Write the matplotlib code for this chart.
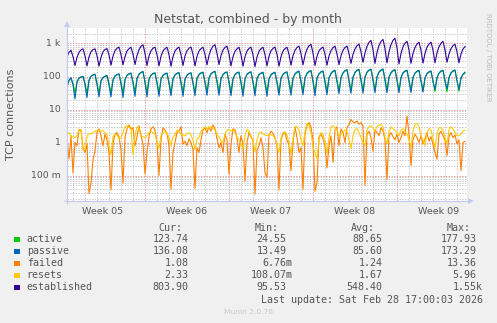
import numpy as np
import matplotlib
matplotlib.use("Agg")
import matplotlib.pyplot as plt
import matplotlib.dates as mdates
from matplotlib.patches import Rectangle, Polygon
from matplotlib.transforms import blended_transform_factory

# Samples every 4 hours, Mon 26 Jan 2026 12:00 -> Sat 28 Feb 2026 16:00.
# Rows: one day each at 00, 04, 08, 12, 16, 20 h (first row starts at 12 h).
start_time = "2026-01-26T12:00"
step_hours = 4

active = [
    50, 75, 90,
    60, 32, 70, 88, 95, 100,
    62, 31, 78, 100, 110, 116,
    62, 32, 75, 92, 100, 105,
    60, 33, 80, 102, 112, 118,
    64, 32, 82, 106, 118, 124,
    68, 34, 88, 115, 130, 138,
    70, 33, 85, 108, 120, 126,
    66, 33, 84, 108, 118, 124,
    66, 34, 86, 110, 122, 128,
    68, 34, 84, 108, 120, 126,
    66, 34, 88, 112, 125, 132,
    70, 35, 90, 118, 132, 140,
    72, 36, 86, 112, 128, 134,
    70, 35, 86, 112, 126, 132,
    68, 34, 86, 114, 128, 135,
    70, 35, 88, 112, 124, 130,
    68, 34, 86, 110, 124, 130,
    68, 35, 88, 114, 128, 134,
    70, 36, 90, 118, 132, 140,
    72, 36, 92, 122, 138, 146,
    74, 35, 90, 118, 134, 142,
    72, 36, 92, 122, 140, 148,
    74, 37, 94, 126, 146, 155,
    78, 38, 96, 130, 150, 160,
    80, 38, 98, 132, 152, 162,
    82, 38, 98, 134, 152, 162,
    82, 38, 96, 128, 146, 156,
    80, 37, 94, 126, 142, 150,
    78, 37, 94, 124, 140, 148,
    76, 36, 92, 120, 134, 142,
    74, 35, 92, 124, 142, 150,
    76, 34, 94, 126, 144, 152,
    78, 36, 92, 114, 123.74,
]

passive = [
    48, 78, 92,
    56, 21, 68, 90, 98, 102,
    58, 23, 76, 102, 112, 118,
    58, 24, 72, 94, 102, 108,
    56, 24, 78, 104, 115, 121,
    60, 23, 80, 110, 122, 128,
    64, 25, 86, 118, 134, 142,
    66, 24, 82, 110, 124, 130,
    62, 25, 82, 110, 122, 128,
    62, 26, 84, 112, 126, 132,
    64, 25, 82, 110, 124, 130,
    62, 26, 86, 116, 130, 136,
    66, 27, 88, 122, 136, 145,
    68, 27, 84, 116, 132, 138,
    66, 26, 84, 116, 130, 137,
    64, 25, 84, 118, 132, 140,
    66, 26, 86, 116, 128, 135,
    64, 25, 84, 114, 128, 135,
    64, 27, 86, 118, 132, 139,
    66, 27, 88, 122, 138, 146,
    68, 28, 90, 126, 144, 152,
    70, 26, 88, 122, 140, 148,
    68, 28, 90, 126, 146, 154,
    70, 30, 92, 130, 152, 162,
    74, 31, 94, 134, 156, 166,
    76, 31, 96, 136, 158, 168,
    78, 32, 96, 138, 158, 170,
    78, 32, 94, 132, 152, 162,
    76, 32, 92, 130, 148, 156,
    74, 33, 92, 128, 146, 154,
    72, 34, 90, 124, 140, 148,
    70, 40, 90, 128, 148, 156,
    72, 42, 92, 130, 150, 158,
    74, 40, 90, 118, 136.08,
]

failed = [
    1.3, 0.32, 1.6,
    0.12, 1.0, 0.8, 2.5, 2.3, 0.7,
    0.5, 0.9, 0.028, 0.06, 0.3, 0.55,
    2.0, 2.6, 1.6, 0.8, 1.8, 1.2,
    0.5, 0.037, 0.9, 1.8, 2.0, 1.5,
    0.6, 0.06, 1.4, 2.6, 3.4, 2.5,
    2.8, 0.8, 1.5, 3.2, 1.6, 0.9,
    0.11, 0.5, 1.5, 2.6, 3.0, 2.4,
    1.0, 0.1, 1.2, 2.8, 2.4, 1.9,
    0.8, 0.038, 0.5, 1.0, 2.0, 2.2,
    3.0, 0.9, 1.1, 0.8, 1.3, 1.0,
    0.6, 0.04, 0.7, 0.5, 1.2, 2.4,
    2.8, 2.0, 3.0, 2.2, 3.4, 2.6,
    1.3, 0.7, 1.0, 0.5, 1.8, 1.2,
    0.11, 0.9, 2.6, 2.4, 1.4, 0.5,
    1.6, 0.9, 0.066, 1.0, 2.0, 1.5,
    1.2, 0.027, 0.6, 0.8, 1.4, 0.7,
    0.12, 0.087, 1.7, 2.2, 1.9, 1.4,
    0.8, 0.037, 1.2, 1.8, 2.0, 1.1,
    0.9, 0.14, 1.0, 3.0, 1.4, 0.5,
    0.7, 0.038, 1.8, 3.3, 4.0, 3.0,
    1.2, 0.033, 0.06, 1.5, 1.8, 1.3,
    0.8, 0.17, 0.8, 1.6, 0.25, 2.5,
    3.0, 0.8, 2.6, 2.0, 1.0, 2.8,
    3.5, 5.0, 4.2, 4.0, 4.5, 3.6,
    4.0, 3.2, 0.05, 1.8, 2.2, 1.4,
    0.55, 2.4, 2.0, 1.6, 2.8, 2.2,
    1.2, 0.077, 1.6, 2.0, 1.5, 1.2,
    1.8, 1.0, 1.4, 2.2, 1.6, 6.3,
    1.8, 0.2, 1.2, 1.8, 1.4, 1.0,
    1.6, 0.9, 1.3, 2.0, 1.1, 1.5,
    0.9, 0.5, 0.31, 1.8, 2.2, 1.6,
    1.2, 0.4, 1.5, 2.0, 1.4, 1.7,
    0.9, 1.2, 0.14, 1.0, 1.08,
]

resets = [
    1.7, 2.0, 1.6,
    1.5, 1.4, 1.6, 2.4, 2.5, 0.6,
    0.6, 1.5, 1.9, 1.8, 2.0, 2.2,
    2.3, 2.4, 2.2, 2.3, 2.0, 1.8,
    0.8, 0.42, 1.5, 1.8, 1.7, 1.3,
    1.3, 2.0, 3.0, 3.2, 2.8, 3.0,
    0.42, 1.6, 3.0, 2.6, 1.6, 1.5,
    1.4, 1.6, 2.0, 2.2, 2.0, 1.8,
    1.0, 0.65, 1.6, 2.0, 2.1, 1.9,
    1.4, 0.8, 1.5, 1.7, 2.4, 2.1,
    1.8, 1.7, 1.6, 1.8, 2.0, 1.7,
    1.2, 0.6, 1.3, 1.4, 2.2, 2.6,
    3.0, 2.6, 2.8, 3.0, 2.6, 2.4,
    1.7, 1.5, 1.1, 1.0, 1.8, 2.4,
    2.5, 2.2, 2.4, 2.0, 1.5, 1.2,
    0.9, 0.65, 1.6, 2.5, 2.2, 1.6,
    1.2, 0.52, 1.2, 1.9, 2.1, 1.8,
    1.7, 1.6, 1.8, 1.7, 1.6, 1.4,
    0.8, 0.5, 1.4, 2.0, 2.1, 1.7,
    1.0, 0.45, 1.3, 3.0, 3.0, 2.4,
    1.2, 0.8, 2.2, 3.8, 3.2, 2.0,
    0.7, 0.5, 0.32, 1.2, 2.0, 1.8,
    1.0, 0.45, 1.4, 3.0, 3.2, 2.8,
    2.4, 1.6, 1.8, 2.0, 2.4, 2.2,
    1.2, 0.65, 1.6, 2.5, 2.6, 2.0,
    1.4, 1.0, 0.8, 2.4, 3.0, 3.2,
    2.8, 2.2, 3.0, 3.4, 3.5, 3.0,
    1.4, 0.9, 2.2, 3.0, 2.6, 2.4,
    2.0, 1.6, 2.4, 2.6, 2.2, 1.8,
    1.2, 0.7, 2.2, 3.6, 3.7, 3.0,
    1.6, 1.2, 0.8, 2.0, 2.6, 2.4,
    1.3, 0.7, 1.8, 2.8, 2.8, 2.4,
    1.4, 0.9, 2.4, 3.0, 2.6, 2.0,
    1.6, 1.6, 1.8, 2.2, 2.33,
]

established = [
    400, 540, 620,
    400, 215, 380, 540, 640, 690,
    420, 210, 390, 560, 650, 690,
    430, 205, 380, 560, 660, 700,
    450, 220, 420, 600, 720, 775,
    460, 225, 400, 590, 700, 770,
    480, 230, 430, 650, 820, 920,
    500, 215, 420, 600, 720, 775,
    460, 210, 410, 590, 700, 770,
    460, 205, 400, 590, 710, 775,
    460, 215, 420, 600, 720, 780,
    470, 210, 410, 590, 700, 770,
    470, 225, 440, 660, 830, 920,
    500, 230, 430, 630, 760, 830,
    480, 210, 400, 580, 690, 770,
    460, 205, 400, 590, 710, 775,
    460, 200, 390, 580, 700, 770,
    460, 210, 410, 600, 710, 780,
    470, 205, 400, 590, 700, 770,
    470, 220, 430, 620, 760, 830,
    490, 225, 440, 680, 850, 940,
    510, 215, 410, 600, 710, 780,
    470, 220, 420, 610, 750, 830,
    480, 230, 430, 620, 760, 830,
    490, 250, 470, 680, 860, 960,
    560, 270, 520, 820, 1080, 1240,
    650, 250, 540, 870, 1150, 1330,
    700, 260, 560, 930, 1250, 1440,
    740, 240, 500, 800, 1020, 1170,
    640, 250, 500, 760, 960, 1100,
    620, 255, 500, 770, 960, 1100,
    630, 260, 520, 800, 1020, 1170,
    640, 270, 480, 700, 860, 950,
    560, 260, 480, 680, 803.9,
]

series_names = ["active", "passive", "failed", "resets", "established"]
series_colors = ["#00CC00", "#0066B3", "#FF8000", "#FFCC00", "#330099"]
cur_vals = ["123.74", "136.08", "1.08", "2.33", "803.90"]
min_vals = ["24.55", "13.49", "6.76m", "108.07m", "95.53"]
avg_vals = ["88.65", "85.60", "1.24", "1.67", "548.40"]
max_vals = ["177.93", "173.29", "13.36", "5.96", "1.55k"]

week_labels = ["Week 05", "Week 06", "Week 07", "Week 08", "Week 09"]
week_mondays = ["2026-01-26", "2026-02-02", "2026-02-09", "2026-02-16", "2026-02-23"]
y_tick_values = [0.1, 1, 10, 100, 1000]
y_tick_labels = ["100 m", "1", "10", "100", "1 k"]

title = "Netstat, combined - by month"
y_title = "TCP connections"
last_update = "Last update: Sat Feb 28 17:00:03 2026"
footer = "Munin 2.0.76"
side_note = "RRDTOOL / TOBI OETIKER"

# ---------------------------------------------------------------- layout
W, H = 497, 323
fig = plt.figure(figsize=(W / 100, H / 100), dpi=100)
fig.patch.set_facecolor("#F0F0F0")

PL, PR, PT, PB = 67, 467, 28, 201   # canvas box in pixels
ax = fig.add_axes([PL / W, 1 - PB / H, (PR - PL) / W, (PB - PT) / H])
ax.set_facecolor("#FFFFFF")
for s in ax.spines.values():
    s.set_visible(False)
ax.set_xticks([])
ax.set_yticks([])
ax.minorticks_off()

n = len(established)
t0 = np.datetime64(start_time)
times = t0 + np.arange(n) * np.timedelta64(step_hours, "h")
x = mdates.date2num(times.astype("datetime64[s]").astype(object))

ax.set_yscale("log")
ax.set_ylim(0.01688, 2949)
x_lo = mdates.date2num(np.datetime64("2026-01-26T12:00").astype("datetime64[s]").astype(object))
x_hi = mdates.date2num(np.datetime64("2026-02-28T20:00").astype("datetime64[s]").astype(object))
ax.set_xlim(x_lo, x_hi)
ax.yaxis.set_minor_locator(matplotlib.ticker.NullLocator())
ax.yaxis.set_major_locator(matplotlib.ticker.NullLocator())
ax.xaxis.set_major_locator(matplotlib.ticker.NullLocator())

minor_c = "#C8C8C8"
major_c = "#E59A9A"
dots = (0, (1.4, 1.4))

# horizontal grid
for d in [0.01, 0.1, 1, 10, 100, 1000]:
    for k in range(2, 10):
        v = k * d
        if 0.01688 < v < 2949:
            ax.axhline(v, color=minor_c, lw=0.7, ls=dots, zorder=1)
for v in y_tick_values:
    ax.axhline(v, color=major_c, lw=0.7, ls=dots, zorder=1.1)

# vertical grid: daily minor lines, Monday major lines
days = np.arange(np.datetime64("2026-01-27"), np.datetime64("2026-03-01"))
mondays = set(np.array(week_mondays, dtype="datetime64[D]").tolist())
for dday in days:
    xv = mdates.date2num(dday.astype("datetime64[s]").astype(object))
    if xv > x_hi:
        continue
    if dday.tolist() in mondays:
        ax.axvline(xv, color=major_c, lw=0.7, ls=dots, zorder=1.1)
    else:
        ax.axvline(xv, color=minor_c, lw=0.7, ls=dots, zorder=1)

# data lines
for vals, col in zip([active, passive, failed, resets, established], series_colors):
    ax.plot(x, vals, color=col, lw=0.8, solid_joinstyle="round", zorder=3)

# ---------------------------------------------------------------- overlay in pixels
ov = fig.add_axes([0, 0, 1, 1])
ov.set_xlim(0, W)
ov.set_ylim(H, 0)
ov.axis("off")
ov.patch.set_visible(False)

axis_c = "#C4CAF2"
ov.plot([PL, PL], [PB + 3, PT - 2], color=axis_c, lw=0.9, solid_capstyle="butt")
ov.plot([PL - 3, PR + 2], [PB, PB], color=axis_c, lw=0.9, solid_capstyle="butt")
ov.add_patch(Polygon([[PL - 3, PT - 1], [PL + 3, PT - 1], [PL, PT - 7]], closed=True,
                     facecolor=axis_c, edgecolor="none"))
ov.add_patch(Polygon([[PR + 1, PB - 3], [PR + 1, PB + 3], [PR + 7, PB]], closed=True,
                     facecolor=axis_c, edgecolor="none"))

txt_c = "#555555"
ov.text(248, 19, title, ha="center", va="center", fontsize=9.0, color=txt_c,
        family="DejaVu Sans")
ov.text(11.5, 114, y_title, ha="center", va="center", rotation=90, fontsize=8.0,
        color=txt_c, family="DejaVu Sans")
ov.text(488, 57, side_note, ha="center", va="center", rotation=270, fontsize=5.0,
        color="#BBBBBB", family="DejaVu Sans")

# y tick labels
trans = blended_transform_factory(ov.transData, ax.transData)
for v, lab in zip(y_tick_values, y_tick_labels):
    ov.text(60.5, v, lab, transform=trans, ha="right", va="center", fontsize=6.7,
            color=txt_c, family="DejaVu Sans")

# week labels centred on each week
transx = blended_transform_factory(ax.transData, ov.transData)
for mon, lab in zip(week_mondays, week_labels):
    mid = np.datetime64(mon) + np.timedelta64(84, "h")
    xm = mdates.date2num(mid.astype("datetime64[s]").astype(object))
    ov.text(xm, 212, lab, transform=transx, ha="center", va="center", fontsize=6.8,
            color=txt_c, family="DejaVu Sans")

# legend table
mono = "DejaVu Sans Mono"
fs = 7.2
header_y = 227.7
for lab, xh in zip(["Cur:", "Min:", "Avg:", "Max:"], [158.7, 254.3, 351.0, 446.7]):
    ov.text(xh, header_y, lab, ha="left", va="center", fontsize=fs, color=txt_c, family=mono)

col_edges = [188.7, 286.7, 382.7, 476.7]   # right edge of the number part
char_w = 6.0
row_y = [239.5, 251.5, 263.5, 275.5, 287.5]
for i, name in enumerate(series_names):
    y = row_y[i]
    ov.add_patch(Rectangle((14, y - 2.8), 5.6, 5.6, facecolor=series_colors[i],
                           edgecolor="none"))
    ov.text(26.7, y, name, ha="left", va="center", fontsize=fs, color=txt_c, family=mono)
    for vals, edge in zip([cur_vals, min_vals, avg_vals, max_vals], col_edges):
        s = vals[i]
        if s[-1].isalpha():
            ov.text(edge + char_w, y, s, ha="right", va="center", fontsize=fs,
                    color=txt_c, family=mono)
        else:
            ov.text(edge, y, s, ha="right", va="center", fontsize=fs,
                    color=txt_c, family=mono)

ov.text(482.7, 300, last_update, ha="right", va="center", fontsize=fs, color=txt_c,
        family=mono)
ov.text(248, 312.3, footer, ha="center", va="center", fontsize=5.4, color="#C8C8C8",
        family="DejaVu Sans")

fig.savefig("out.png", dpi=100, facecolor=fig.get_facecolor())
